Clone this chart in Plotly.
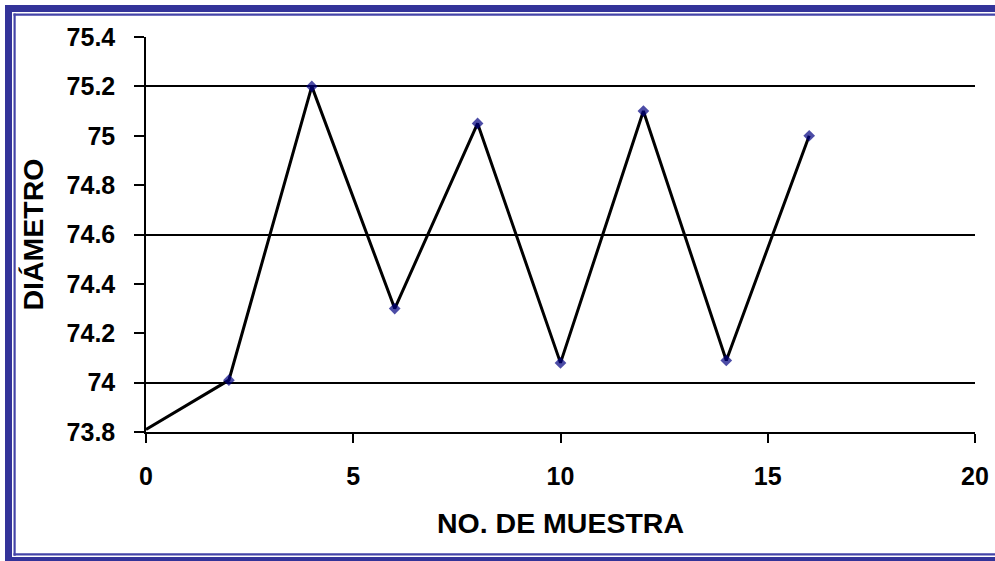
import plotly.graph_objects as go

# Data
sample_no = [0, 2, 4, 6, 8, 10, 12, 14, 16]
diameter = [73.81, 74.01, 75.2, 74.3, 75.05, 74.08, 75.1, 74.09, 75.0]
y_ticks = [73.8, 74.0, 74.2, 74.4, 74.6, 74.8, 75.0, 75.2, 75.4]
y_tick_text = ["73.8", "74", "74.2", "74.4", "74.6", "74.8", "75", "75.2", "75.4"]
grid_values = [74.0, 74.6, 75.2]
x_ticks = [0, 5, 10, 15, 20]

W, H = 995, 561
L, R, T, B = 146, 20, 37, 129
pw, ph = W - L - R, H - T - B

def px(x):
    return (x - L) / pw

def py(y):
    return (H - B - y) / ph

FONT = "Arial, Liberation Sans, sans-serif"

fig = go.Figure()
fig.add_trace(go.Scatter(
    x=sample_no, y=diameter, mode="lines+markers",
    line=dict(color="black", width=3),
    marker=dict(symbol="diamond", color="#000080", size=[0] + [9] * (len(sample_no) - 1),
                line=dict(width=0)),
    cliponaxis=False, showlegend=False,
))
# invisible trace on secondary axis for gridlines
fig.add_trace(go.Scatter(x=[None], y=[None], yaxis="y2", showlegend=False))

thick = "#333399"
thin = "#4444a8"
shapes = [
    dict(type="rect", xref="paper", yref="paper", x0=px(5), x1=px(12), y0=py(5), y1=py(570),
         fillcolor=thick, line=dict(width=0), layer="above"),
    dict(type="rect", xref="paper", yref="paper", x0=px(5), x1=px(1010), y0=py(5), y1=py(12),
         fillcolor=thick, line=dict(width=0), layer="above"),
    dict(type="rect", xref="paper", yref="paper", x0=px(5), x1=px(1010), y0=py(557), y1=py(570),
         fillcolor=thick, line=dict(width=0), layer="above"),
    dict(type="rect", xref="paper", yref="paper", x0=px(13.5), x1=px(15.7), y0=py(13.5), y1=py(555.7),
         fillcolor=thin, line=dict(width=0), layer="above"),
    dict(type="rect", xref="paper", yref="paper", x0=px(13.5), x1=px(1010), y0=py(13.5), y1=py(15.8),
         fillcolor=thin, line=dict(width=0), layer="above"),
    dict(type="rect", xref="paper", yref="paper", x0=px(13.5), x1=px(1010), y0=py(553.3), y1=py(555.6),
         fillcolor=thin, line=dict(width=0), layer="above"),
]

fig.update_layout(
    width=W, height=H,
    margin=dict(l=L, r=R, t=T, b=B, autoexpand=False),
    paper_bgcolor="white", plot_bgcolor="white",
    font=dict(family=FONT, color="black"),
    shapes=shapes,
    xaxis=dict(
        range=[0, 20], tickvals=x_ticks, ticks="outside", ticklen=9, tickwidth=1.5,
        tickcolor="black", showline=True, linecolor="black", linewidth=1.5,
        showgrid=False, zeroline=False, automargin=False,
        tickfont=dict(size=25, family=FONT, weight="bold"), ticklabelstandoff=12,
        title=dict(text="NO. DE MUESTRA", font=dict(size=28.5, family=FONT, weight="bold"), standoff=24),
    ),
    yaxis=dict(
        range=[73.8, 75.4], tickvals=y_ticks, ticktext=y_tick_text, ticks="outside", ticklen=10,
        tickwidth=1.5, tickcolor="black", showline=True, linecolor="black", linewidth=1.5,
        showgrid=False, zeroline=False, automargin=False,
        tickfont=dict(size=25, family=FONT, weight="bold"), ticklabelstandoff=14,
        title=dict(text="DIÁMETRO", font=dict(size=28.5, family=FONT, weight="bold"), standoff=15),
    ),
    yaxis2=dict(
        range=[73.8, 75.4], overlaying="y", side="left", tickvals=grid_values,
        showticklabels=False, ticks="", showgrid=True, gridcolor="black", gridwidth=1.5,
        zeroline=False, showline=False,
    ),
)

fig.write_html("out.html", config={"displayModeBar": False},
               post_script="document.body.style.margin='0';document.body.style.overflow='hidden';")
